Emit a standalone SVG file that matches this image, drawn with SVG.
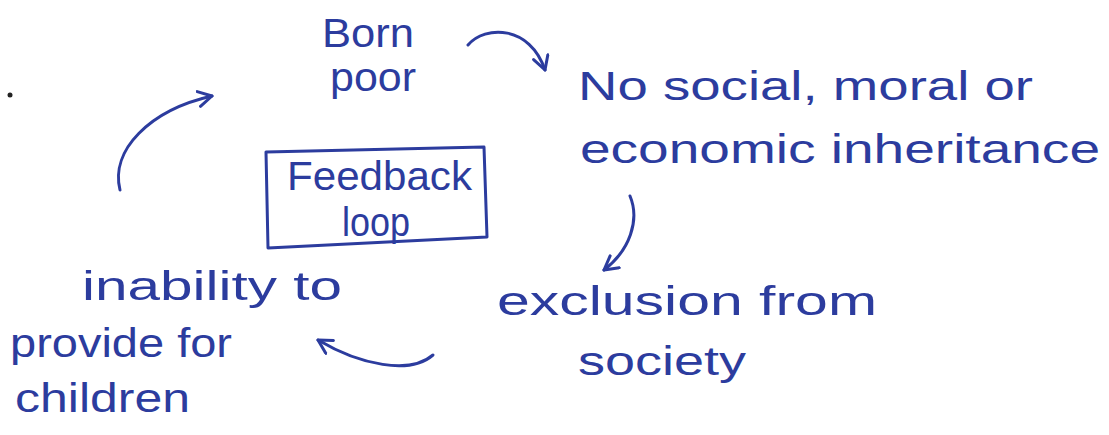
<svg xmlns="http://www.w3.org/2000/svg" width="1109" height="435" viewBox="0 0 1109 435">
<style>
.t{font-family:"Liberation Sans",Arial,sans-serif;fill:#2c3c9e;font-size:40px}
.c{fill:none;stroke:#2c3c9e;stroke-width:3;stroke-linecap:round;stroke-linejoin:round}
</style>
<defs>
<marker id="ah" viewBox="0 0 12 12" refX="10" refY="6" markerWidth="6" markerHeight="6" orient="auto" markerUnits="strokeWidth">
<path d="M1,1 L10,6 L1,11" fill="none" stroke="#2c3c9e" stroke-width="2" stroke-linecap="round" stroke-linejoin="round"/>
</marker>
</defs>
<rect width="1109" height="435" fill="#ffffff"/>
<circle cx="10" cy="95" r="2.5" fill="#222"/>
<g id="connectors">
<path class="c" d="M468,45 C485,25 530,25 545,70" marker-end="url(#ah)"/>
<path class="c" d="M630,196 C640,220 630,250 604,270" marker-end="url(#ah)"/>
<path class="c" d="M433,355 C410,375 360,365 318,340" marker-end="url(#ah)"/>
<path class="c" d="M120,190 C110,150 150,110 212,96" marker-end="url(#ah)"/>
</g>
<g id="born-poor">
<text class="t" x="322" y="47" font-size="34" textLength="92" lengthAdjust="spacingAndGlyphs">Born</text>
<text class="t" x="330" y="91" font-size="30" textLength="86" lengthAdjust="spacingAndGlyphs">poor</text>
</g>
<g id="no-inheritance">
<text class="t" x="578" y="100" font-size="44" textLength="455" lengthAdjust="spacingAndGlyphs">No social, moral or</text>
<text class="t" x="580" y="163" font-size="44" textLength="520" lengthAdjust="spacingAndGlyphs">economic inheritance</text>
</g>
<g id="exclusion">
<text class="t" x="497" y="315" font-size="44" textLength="380" lengthAdjust="spacingAndGlyphs">exclusion from</text>
<text class="t" x="578" y="375" font-size="44" textLength="168" lengthAdjust="spacingAndGlyphs">society</text>
</g>
<g id="inability">
<text class="t" x="82" y="300" font-size="44" textLength="260" lengthAdjust="spacingAndGlyphs">inability to</text>
<text class="t" x="10" y="357" font-size="44" textLength="222" lengthAdjust="spacingAndGlyphs">provide for</text>
<text class="t" x="15" y="412" font-size="44" textLength="175" lengthAdjust="spacingAndGlyphs">children</text>
</g>
<g id="feedback-loop">
<path class="c" d="M266,152 L484,147 L487,237 L268,248 Z"/>
<text class="t" x="287" y="190" font-size="34" textLength="185" lengthAdjust="spacingAndGlyphs">Feedback</text>
<text class="t" x="342" y="236" font-size="28" textLength="68" lengthAdjust="spacingAndGlyphs">loop</text>
</g>
</svg>
